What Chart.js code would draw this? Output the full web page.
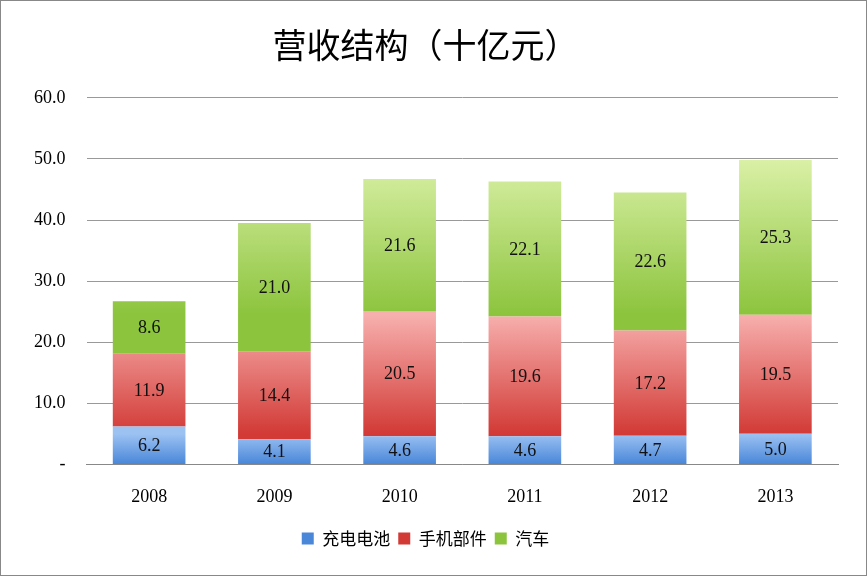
<!DOCTYPE html>
<html><head><meta charset="utf-8">
<script src="https://cdn.jsdelivr.net/npm/chart.js@4"></script>
<style>html,body{margin:0;padding:0;background:#fff}#w{width:865px;height:574px;border:1px solid #888;position:relative}</style>
</head><body><div id="w"><canvas id="c"></canvas></div>
<script>
const years = ['2008','2009','2010','2011','2012','2013'];
const battery = [6.2,4.1,4.6,4.6,4.7,5.0];
const phone = [11.9,14.4,20.5,19.6,17.2,19.5];
const auto = [8.6,21.0,21.6,22.1,22.6,25.3];
const yTicks = [0,10,20,30,40,50,60];
const grads = [['#9cc2f2','#4a87d9'],['#f7b0ae','#d23a36'],['#d9f0a6','#8cc43d']];
const gradPlugin = {id:'g',beforeDatasetsDraw(chart){const c=chart.ctx;
 chart.data.datasets.forEach((ds,i)=>{chart.getDatasetMeta(i).data.forEach(el=>{
  const g=c.createLinearGradient(0,el.y,0,el.base);g.addColorStop(0,grads[i][0]);g.addColorStop(1,grads[i][1]);el.options.backgroundColor=g;});});}};
const labelPlugin = {id:'l',afterDatasetsDraw(chart){const c=chart.ctx;c.save();c.font='18px "Liberation Serif"';c.fillStyle='#111';c.textAlign='center';c.textBaseline='middle';
 chart.data.datasets.forEach((ds,i)=>{chart.getDatasetMeta(i).data.forEach((el,j)=>{c.fillText(ds.data[j].toFixed(1),el.x,(el.y+el.base)/2+1);});});c.restore();}};
new Chart(document.getElementById('c'),{type:'bar',
 data:{labels:years,datasets:[
  {label:'充电电池',data:battery},{label:'手机部件',data:phone},{label:'汽车',data:auto}]},
 options:{responsive:true,maintainAspectRatio:false,animation:false,
  layout:{padding:{left:12,right:28,top:10,bottom:18}},
  datasets:{bar:{barPercentage:0.58,categoryPercentage:1}},
  plugins:{title:{display:true,text:'营收结构（十亿元）',font:{size:34,family:'"Noto Sans CJK SC"',weight:'normal'},color:'#000',padding:{top:14,bottom:32}},
   legend:{position:'bottom',labels:{boxWidth:12,boxHeight:12,padding:8,font:{size:17,family:'"Noto Sans CJK SC"'},color:'#222',
    generateLabels(ch){return ch.data.datasets.map((d,i)=>({text:d.label,fillStyle:grads[i][1],strokeStyle:grads[i][1],lineWidth:0,datasetIndex:i}));}}},
   tooltip:{enabled:false}},
  scales:{x:{stacked:true,grid:{display:false},border:{color:'#888'},ticks:{padding:14,font:{size:18,family:'"Liberation Serif"'},color:'#000'}},
   y:{stacked:true,min:0,max:60,grid:{color:'#999',drawTicks:false},border:{display:false},
    afterBuildTicks(s){s.ticks=yTicks.map(v=>({value:v}));},
    ticks:{padding:21,font:{size:18,family:'"Liberation Serif"'},color:'#000',callback:v=>v===0?'-':v.toFixed(1)}}}},
 plugins:[gradPlugin,labelPlugin]});
</script></body></html>
